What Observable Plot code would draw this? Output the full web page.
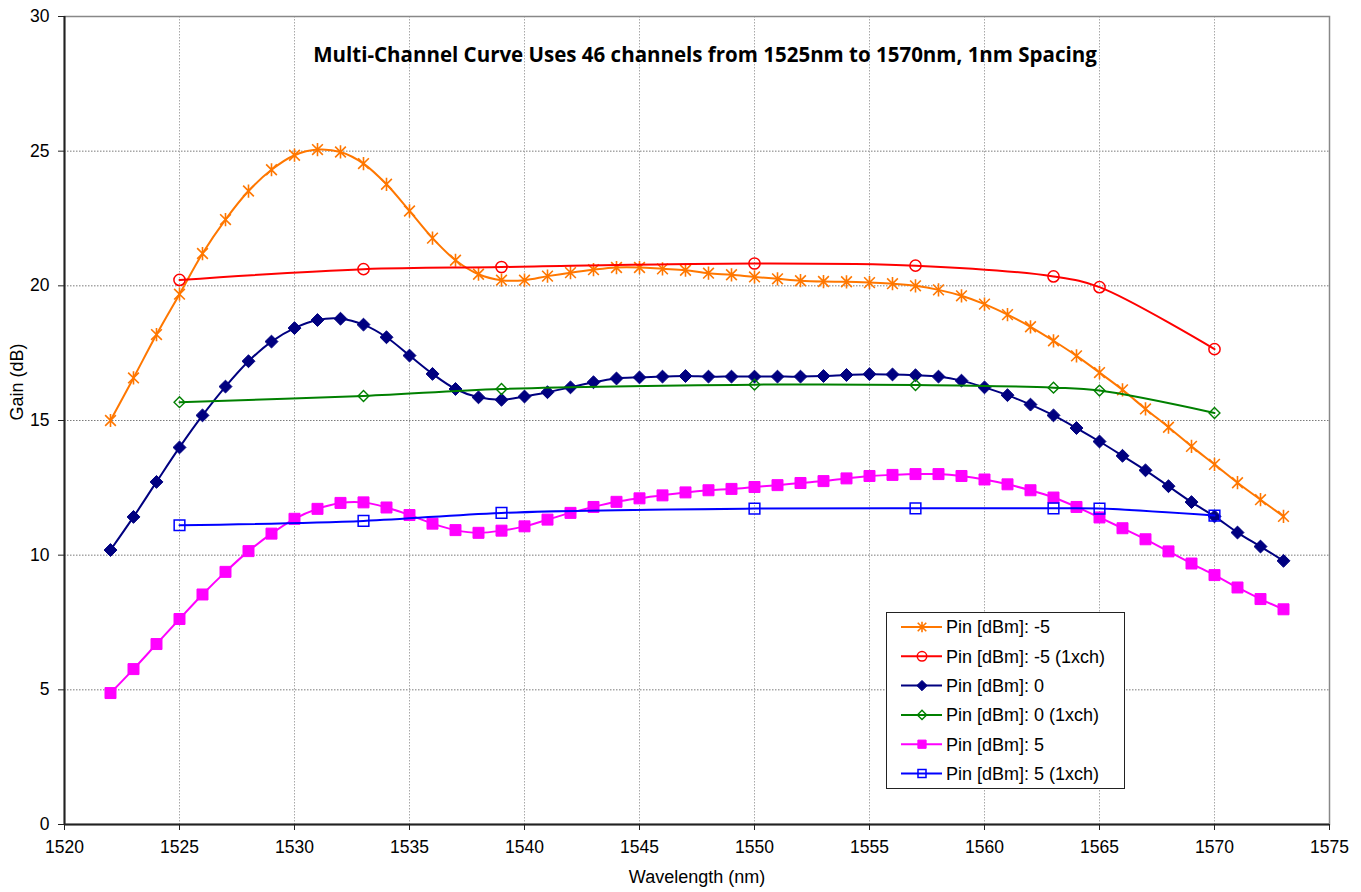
<!DOCTYPE html>
<html>
<head>
<meta charset="utf-8">
<script src="https://cdn.jsdelivr.net/npm/d3@7"></script>
<script src="https://cdn.jsdelivr.net/npm/@observablehq/plot@0.6"></script>
<style>
  html, body { margin: 0; padding: 0; background: #fff; }
  #wrap { position: relative; width: 1361px; height: 892px; }
  #legend { position: absolute; left: 886px; top: 612px; }
</style>
</head>
<body>
<div id="wrap"><div id="chart"></div><div id="legend"></div></div>
<script>
// ---- Data ----
const wavelength = [1522,1523,1524,1525,1526,1527,1528,1529,1530,1531,1532,1533,1534,1535,1536,1537,1538,1539,1540,1541,1542,1543,1544,1545,1546,1547,1548,1549,1550,1551,1552,1553,1554,1555,1556,1557,1558,1559,1560,1561,1562,1563,1564,1565,1566,1567,1568,1569,1570,1571,1572,1573];
const gainPinM5 = [15.00,16.58,18.19,19.69,21.20,22.46,23.52,24.31,24.85,25.06,24.97,24.54,23.77,22.78,21.77,20.95,20.43,20.21,20.21,20.36,20.49,20.60,20.68,20.68,20.63,20.58,20.47,20.41,20.33,20.26,20.19,20.16,20.15,20.12,20.08,20.00,19.85,19.63,19.32,18.93,18.48,17.96,17.40,16.78,16.14,15.43,14.75,14.04,13.37,12.69,12.06,11.44];
const gainPin0 = [10.19,11.42,12.72,14.00,15.19,16.26,17.20,17.93,18.43,18.73,18.78,18.56,18.09,17.41,16.73,16.17,15.86,15.77,15.89,16.05,16.23,16.42,16.56,16.60,16.63,16.65,16.63,16.63,16.63,16.63,16.63,16.65,16.69,16.72,16.71,16.68,16.63,16.48,16.23,15.94,15.59,15.19,14.72,14.22,13.69,13.15,12.56,11.97,11.44,10.84,10.32,9.79];
const gainPin5 = [4.88,5.77,6.70,7.63,8.54,9.38,10.15,10.80,11.35,11.72,11.94,11.96,11.77,11.49,11.17,10.93,10.83,10.91,11.07,11.32,11.57,11.79,11.98,12.11,12.22,12.33,12.41,12.46,12.53,12.60,12.68,12.75,12.85,12.94,12.98,13.01,13.01,12.94,12.81,12.63,12.41,12.14,11.79,11.40,11.00,10.59,10.14,9.69,9.26,8.80,8.37,7.99];

const wavelength1ch = [1525,1533,1539,1550,1557,1563,1565,1570];
const gainPinM5_1ch = [20.22,20.62,20.70,20.83,20.75,20.35,19.95,17.65];
const gainPin0_1ch  = [15.68,15.91,16.17,16.33,16.32,16.22,16.11,15.28];
const gainPin5_1ch  = [11.11,11.27,11.57,11.73,11.74,11.74,11.73,11.47];

const xTicks = [1520,1525,1530,1535,1540,1545,1550,1555,1560,1565,1570,1575];
const yTicks = [0,5,10,15,20,25,30];
const seriesNames = ["Pin [dBm]: -5","Pin [dBm]: -5 (1xch)","Pin [dBm]: 0","Pin [dBm]: 0 (1xch)","Pin [dBm]: 5","Pin [dBm]: 5 (1xch)"];
const titleText = "Multi-Channel Curve Uses 46 channels from 1525nm to 1570nm, 1nm Spacing";
const xLabel = "Wavelength (nm)";
const yLabel = "Gain (dB)";

// Excel-style star marker: an X plus a vertical bar
const excelStar = {
  draw(context, size) {
    const r = Math.sqrt(size / Math.PI);
    const a = r * 0.85, b = r * 1.05;
    context.moveTo(-a, -a); context.lineTo(a, a);
    context.moveTo(-a, a); context.lineTo(a, -a);
    context.moveTo(0, -b); context.lineTo(0, b);
  }
};

// ---- Styling ----
const styles = [
  {color: "#FF7700", symbol: excelStar,  r: 6.3, fill: "none",    strokeWidth: 1.6},
  {color: "#FF0000", symbol: "circle",   r: 5.6, fill: "none",    strokeWidth: 1.5},
  {color: "#000080", symbol: "diamond2", r: 5.8, fill: "#000080", strokeWidth: 1},
  {color: "#008000", symbol: "diamond2", r: 4.9, fill: "none",    strokeWidth: 1.4},
  {color: "#FF00FF", symbol: "square",   r: 6.2, fill: "#FF00FF", strokeWidth: 1},
  {color: "#0000FF", symbol: "square2",  r: 6.8, fill: "none",    strokeWidth: 1.5}
];

function table(xs, ys) { return xs.map((x, i) => ({x, y: ys[i]})); }
const series = [
  table(wavelength, gainPinM5),
  table(wavelength1ch, gainPinM5_1ch),
  table(wavelength, gainPin0),
  table(wavelength1ch, gainPin0_1ch),
  table(wavelength, gainPin5),
  table(wavelength1ch, gainPin5_1ch)
];

const seriesMarks = series.flatMap((data, i) => {
  const s = styles[i];
  return [
    Plot.line(data, {x: "x", y: "y", stroke: s.color, strokeWidth: 2, curve: "catmull-rom"}),
    Plot.dot(data, {x: "x", y: "y", symbol: s.symbol, r: s.r, stroke: s.color, fill: s.fill, strokeWidth: s.strokeWidth})
  ];
});

const chart = Plot.plot({
  width: 1361,
  height: 892,
  marginLeft: 64,
  marginRight: 32,
  marginTop: 16,
  marginBottom: 68,
  style: {fontFamily: "'Liberation Sans', Arial, sans-serif", fontSize: "17.5px", color: "#000", background: "#fff", overflow: "visible"},
  x: {domain: [1520, 1575], label: null},
  y: {domain: [0, 30], label: null},
  marks: [
    Plot.gridY(yTicks.filter(d => d > 0 && d < 30), {stroke: "#7a7a7a", strokeOpacity: 1, strokeDasharray: "1.5,1.5"}),
    Plot.gridX(xTicks.filter(d => d > 1520 && d < 1575), {stroke: "#a8a8a8", strokeOpacity: 1, strokeDasharray: "1.5,1.5"}),
    Plot.frame({stroke: "#888", strokeWidth: 1.5}),
    Plot.ruleY([0], {stroke: "#222", strokeWidth: 2}),
    Plot.ruleX([1520], {stroke: "#222", strokeWidth: 2}),
    Plot.axisX(xTicks, {tickSize: 6, tickPadding: 10, tickFormat: d => String(d), stroke: "#222", fontSize: 17.5, label: null}),
    Plot.axisY(yTicks, {tickSize: 6, tickPadding: 9, stroke: "#222", fontSize: 17.5, label: null}),
    ...seriesMarks,
    Plot.text([titleText], {frameAnchor: "top", dy: 31, dx: 8, fontWeight: "bold", fontSize: 20.5, fontFamily: "'Open Sans', Lato, sans-serif", fill: "#000"}),
    Plot.text([xLabel], {frameAnchor: "bottom", dy: 58, fontSize: 18, fill: "#000"}),
    Plot.text([yLabel], {frameAnchor: "left", dx: -47, rotate: -90, fontSize: 18, fill: "#000"})
  ]
});
document.getElementById("chart").appendChild(chart);

// ---- Legend (inside plot area, like the reference) ----
const symMap = {circle: d3.symbolCircle, diamond2: d3.symbolDiamond2, square: d3.symbolSquare, square2: d3.symbolSquare2};
const legendScale = [0.8, 0.85, 0.8, 0.85, 0.75, 0.75];
const lw = 239, lh = 177;
const lsvg = d3.select("#legend").append("svg").attr("width", lw).attr("height", lh);
lsvg.append("rect").attr("x", 0.5).attr("y", 0.5).attr("width", lw - 1).attr("height", lh - 1)
  .attr("fill", "#fff").attr("stroke", "#222").attr("stroke-width", 1);
seriesNames.forEach((name, i) => {
  const s = styles[i];
  const r = s.r * legendScale[i];
  const cy = 15 + i * 29.3;
  const sym = typeof s.symbol === "string" ? symMap[s.symbol] : s.symbol;
  const g = lsvg.append("g").attr("transform", `translate(0,${cy})`);
  g.append("line").attr("x1", 15).attr("x2", 56).attr("y1", 0).attr("y2", 0)
    .attr("stroke", s.color).attr("stroke-width", 2);
  g.append("path").attr("transform", "translate(36,0)")
    .attr("d", d3.symbol(sym, Math.PI * r * r)())
    .attr("fill", s.fill).attr("stroke", s.color).attr("stroke-width", s.strokeWidth);
  g.append("text").attr("x", 60).attr("y", 0).attr("dy", "0.35em")
    .attr("font-family", "'Liberation Sans', Arial, sans-serif").attr("font-size", 18).attr("fill", "#000")
    .text(name);
});
</script>
</body>
</html>
